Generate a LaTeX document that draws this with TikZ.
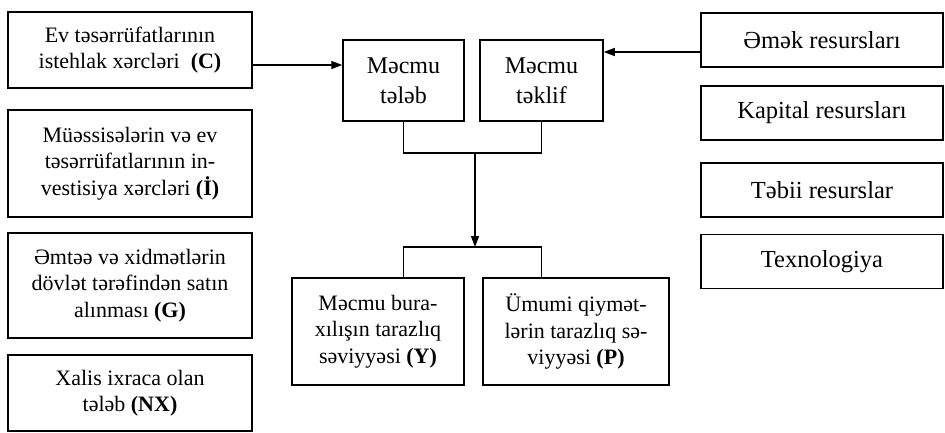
\documentclass[tikz,border=0pt]{standalone}
\usepackage{fontspec}
\setmainfont{Liberation Serif}
\usetikzlibrary{arrows.meta,positioning,calc}

\begin{document}
\begin{tikzpicture}[x=1pt, y=-1pt,
    box/.style={rectangle, draw=black, line width=1.5pt, align=center, inner sep=2pt,
                font=\fontsize{22}{26.5}\selectfont},
    lbox/.style={box, minimum width=244pt},
    mbox/.style={box, minimum height=81pt, font=\fontsize{24}{30}\selectfont},
    rbox/.style={box, minimum width=242pt, minimum height=54pt, font=\fontsize{24.5}{30}\selectfont},
    arr/.style={-{Triangle[length=11pt,width=8pt]}, line width=1.5pt},
    ln/.style={line width=1.5pt}
]
\useasboundingbox (0,0) rectangle (945,432);

% left column
\node[lbox, minimum height=76pt]  (c)  at (130,50)    {Ev təsərrüfatlarının\\istehlak xərcləri~~\textbf{(C)}};
\node[lbox, minimum height=107pt] (i)  at (130,163.5) {Müəssisələrin və ev\\təsərrüfatlarının in-\\vestisiya xərcləri \textbf{(İ)}};
\node[lbox, minimum height=105pt] (g)  at (130,285.5) {Əmtəə və xidmətlərin\\dövlət tərəfindən satın\\alınması \textbf{(G)}};
\node[lbox, minimum height=76pt]  (nx) at (130,393)   {Xalis ixraca olan\\tələb \textbf{(NX)}};

% middle
\node[mbox, minimum width=121pt] (tl) at (403.5,80.5) {Məcmu\\tələb};
\node[mbox, minimum width=123pt] (tk) at (541.5,80.5) {Məcmu\\təklif};
\node[box, minimum width=172pt, minimum height=107pt] (y)  at (378,331.5)  {Məcmu bura-\\xılışın tarazlıq\\səviyyəsi \textbf{(Y)}};
\node[box, minimum width=186pt, minimum height=107pt] (p)  at (576,331.5)  {Ümumi qiymət-\\lərin tarazlıq sə-\\viyyəsi \textbf{(P)}};

% right column
\node[rbox] (em)  at (822,40)    {Əmək resursları};
\node[rbox] (kap) at (822,113)   {Kapital resursları};
\node[rbox] (tab) at (822,190)   {Təbii resurslar};
\node[rbox] (tex) at (822,261.5) {Texnologiya};

\coordinate (up) at (475,153);
\coordinate (dn) at (475,247);

\draw[arr] ([yshift=-15pt]c.east) -- ([yshift=-15pt]c.east -| tl.west);
\draw[arr] ([yshift=-12pt]em.west) -- ([yshift=-12pt]em.west -| tk.east);
\draw[ln] (tl.south) |- (up) -| (tk.south);
\draw[arr] (up) -- (dn);
\draw[ln] (y.north -| tl.south) |- (dn) -| (p.north -| tk.south);
\end{tikzpicture}
\end{document}
